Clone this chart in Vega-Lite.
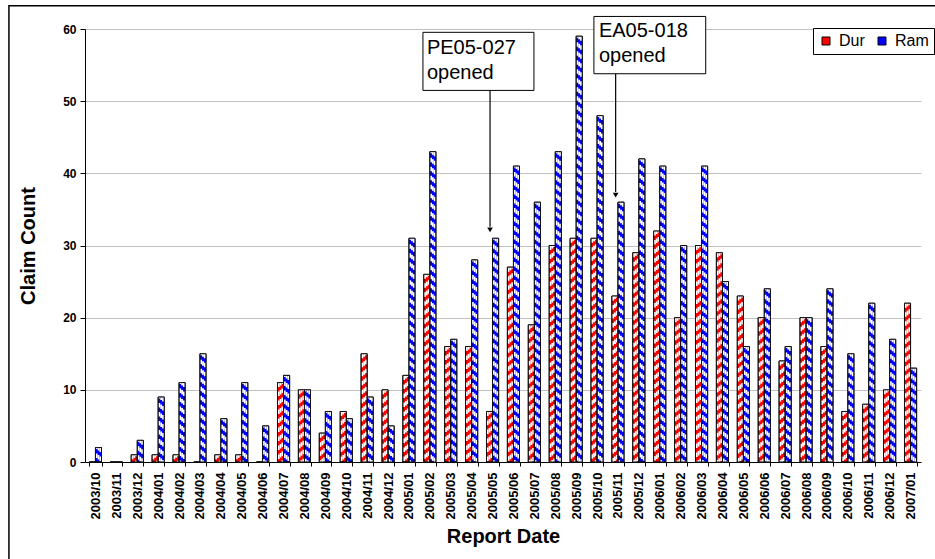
{
  "$schema": "https://vega.github.io/schema/vega-lite/v6.json",
  "width": 836,
  "height": 433,
  "autosize": {"type": "none"},
  "padding": {"left": 85, "top": 29, "right": 14, "bottom": 97},
  "background": "white",
  "config": {
    "font": "Liberation Sans",
    "view": {"stroke": null},
    "axis": {"labelFont": "Liberation Sans", "titleFont": "Liberation Sans", "domainColor": "#000", "tickColor": "#000", "labelColor": "#000", "titleColor": "#000"}
  },
  "datasets": {
    "claims": [
      {"month": "2003/10", "series": "Dur", "count": 0}, {"month": "2003/10", "series": "Ram", "count": 2},
      {"month": "2003/11", "series": "Dur", "count": 0}, {"month": "2003/11", "series": "Ram", "count": 0},
      {"month": "2003/12", "series": "Dur", "count": 1}, {"month": "2003/12", "series": "Ram", "count": 3},
      {"month": "2004/01", "series": "Dur", "count": 1}, {"month": "2004/01", "series": "Ram", "count": 9},
      {"month": "2004/02", "series": "Dur", "count": 1}, {"month": "2004/02", "series": "Ram", "count": 11},
      {"month": "2004/03", "series": "Dur", "count": 0}, {"month": "2004/03", "series": "Ram", "count": 15},
      {"month": "2004/04", "series": "Dur", "count": 1}, {"month": "2004/04", "series": "Ram", "count": 6},
      {"month": "2004/05", "series": "Dur", "count": 1}, {"month": "2004/05", "series": "Ram", "count": 11},
      {"month": "2004/06", "series": "Dur", "count": 0}, {"month": "2004/06", "series": "Ram", "count": 5},
      {"month": "2004/07", "series": "Dur", "count": 11}, {"month": "2004/07", "series": "Ram", "count": 12},
      {"month": "2004/08", "series": "Dur", "count": 10}, {"month": "2004/08", "series": "Ram", "count": 10},
      {"month": "2004/09", "series": "Dur", "count": 4}, {"month": "2004/09", "series": "Ram", "count": 7},
      {"month": "2004/10", "series": "Dur", "count": 7}, {"month": "2004/10", "series": "Ram", "count": 6},
      {"month": "2004/11", "series": "Dur", "count": 15}, {"month": "2004/11", "series": "Ram", "count": 9},
      {"month": "2004/12", "series": "Dur", "count": 10}, {"month": "2004/12", "series": "Ram", "count": 5},
      {"month": "2005/01", "series": "Dur", "count": 12}, {"month": "2005/01", "series": "Ram", "count": 31},
      {"month": "2005/02", "series": "Dur", "count": 26}, {"month": "2005/02", "series": "Ram", "count": 43},
      {"month": "2005/03", "series": "Dur", "count": 16}, {"month": "2005/03", "series": "Ram", "count": 17},
      {"month": "2005/04", "series": "Dur", "count": 16}, {"month": "2005/04", "series": "Ram", "count": 28},
      {"month": "2005/05", "series": "Dur", "count": 7}, {"month": "2005/05", "series": "Ram", "count": 31},
      {"month": "2005/06", "series": "Dur", "count": 27}, {"month": "2005/06", "series": "Ram", "count": 41},
      {"month": "2005/07", "series": "Dur", "count": 19}, {"month": "2005/07", "series": "Ram", "count": 36},
      {"month": "2005/08", "series": "Dur", "count": 30}, {"month": "2005/08", "series": "Ram", "count": 43},
      {"month": "2005/09", "series": "Dur", "count": 31}, {"month": "2005/09", "series": "Ram", "count": 59},
      {"month": "2005/10", "series": "Dur", "count": 31}, {"month": "2005/10", "series": "Ram", "count": 48},
      {"month": "2005/11", "series": "Dur", "count": 23}, {"month": "2005/11", "series": "Ram", "count": 36},
      {"month": "2005/12", "series": "Dur", "count": 29}, {"month": "2005/12", "series": "Ram", "count": 42},
      {"month": "2006/01", "series": "Dur", "count": 32}, {"month": "2006/01", "series": "Ram", "count": 41},
      {"month": "2006/02", "series": "Dur", "count": 20}, {"month": "2006/02", "series": "Ram", "count": 30},
      {"month": "2006/03", "series": "Dur", "count": 30}, {"month": "2006/03", "series": "Ram", "count": 41},
      {"month": "2006/04", "series": "Dur", "count": 29}, {"month": "2006/04", "series": "Ram", "count": 25},
      {"month": "2006/05", "series": "Dur", "count": 23}, {"month": "2006/05", "series": "Ram", "count": 16},
      {"month": "2006/06", "series": "Dur", "count": 20}, {"month": "2006/06", "series": "Ram", "count": 24},
      {"month": "2006/07", "series": "Dur", "count": 14}, {"month": "2006/07", "series": "Ram", "count": 16},
      {"month": "2006/08", "series": "Dur", "count": 20}, {"month": "2006/08", "series": "Ram", "count": 20},
      {"month": "2006/09", "series": "Dur", "count": 16}, {"month": "2006/09", "series": "Ram", "count": 24},
      {"month": "2006/10", "series": "Dur", "count": 7}, {"month": "2006/10", "series": "Ram", "count": 15},
      {"month": "2006/11", "series": "Dur", "count": 8}, {"month": "2006/11", "series": "Ram", "count": 22},
      {"month": "2006/12", "series": "Dur", "count": 10}, {"month": "2006/12", "series": "Ram", "count": 17},
      {"month": "2007/01", "series": "Dur", "count": 22}, {"month": "2007/01", "series": "Ram", "count": 13}
    ],
    "frame": [{"x1": -3.64, "x2": 46, "y1": 63.23, "y2": -20}],
    "boxes": [
      {"x1": 16.17, "x2": 21.48, "y1": 59.54, "y2": 51.49},
      {"x1": 24.35, "x2": 29.7, "y1": 61.74, "y2": 53.8}
    ],
    "notes": [
      {"x": 16.36, "y": 56.58, "text": "PE05-027\nopened"},
      {"x": 24.59, "y": 58.83, "text": "EA05-018\nopened"}
    ],
    "arrows": [
      {"x": 19.38, "ytop": 51.49, "yend": 32.6, "yhead": 32.17},
      {"x": 25.39, "ytop": 53.8, "yend": 37.4, "yhead": 36.98}
    ]
  },
  "layer": [
    {
      "data": {"name": "claims"},
      "layer": [
        {
          "mark": {"type": "bar", "stroke": "#111", "strokeWidth": 1},
          "encoding": {
            "x": {
              "field": "month", "type": "ordinal",
              "scale": {"paddingInner": 0.42, "paddingOuter": 0.21},
              "title": "Report Date",
              "axis": {"labelAngle": -90, "labelFontSize": 13, "labelFontWeight": "bold", "labelPadding": 6, "tickSize": 4, "tickBand": "extent", "titleFontSize": 20, "titleFontWeight": "bold", "titlePadding": 8, "labelBaseline": "middle", "labelAlign": "right"}
            },
            "xOffset": {"field": "series", "type": "nominal", "scale": {"paddingInner": 0, "paddingOuter": 0}},
            "y": {
              "field": "count", "type": "quantitative",
              "scale": {"domain": [0, 60], "nice": false},
              "title": "Claim Count",
              "axis": {"values": [0, 5, 10, 15, 20, 25, 30, 35, 40, 45, 50, 55, 60], "labelExpr": "datum.value % 10 === 0 ? datum.label : ''", "labelFontSize": 12, "labelFontWeight": "bold", "labelPadding": 4, "tickSize": 5, "gridColor": "#c0c0c0", "gridOpacity": {"condition": {"test": "datum.value % 10 === 0 && datum.value > 0", "value": 1}, "value": 0}, "titleFontSize": 20, "titleFontWeight": "bold", "titlePadding": 24}
            },
            "color": {
              "field": "series", "type": "nominal",
              "scale": {"domain": ["Dur", "Ram"], "range": ["#ff0000", "#0000ff"]},
              "legend": {"orient": "none", "legendX": 728, "legendY": -1, "direction": "horizontal", "title": null, "strokeColor": "#000", "fillColor": "white", "padding": 5, "symbolType": "square", "symbolSize": 64, "symbolStrokeColor": "#000", "symbolStrokeWidth": 1, "labelFontSize": 16, "labelFont": "Liberation Sans", "labelColor": "#000", "columnPadding": 9, "labelOffset": 5}
            }
          }
        },
        {
          "transform": [{"filter": "datum.series === 'Dur'"}],
          "mark": {"type": "rule", "color": "white", "strokeWidth": 1.8, "strokeDash": [4.5, 4.5], "strokeDashOffset": 0, "strokeCap": "butt"},
          "encoding": {"x": {"field": "month", "type": "ordinal", "bandPosition": 0.1}, "y": {"field": "count", "type": "quantitative"}, "y2": {"datum": 0}}
        },
        {
          "transform": [{"filter": "datum.series === 'Dur'"}],
          "mark": {"type": "rule", "color": "white", "strokeWidth": 1.8, "strokeDash": [4.5, 4.5], "strokeDashOffset": 1.5, "strokeCap": "butt"},
          "encoding": {"x": {"field": "month", "type": "ordinal", "bandPosition": 0.25}, "y": {"field": "count", "type": "quantitative"}, "y2": {"datum": 0}}
        },
        {
          "transform": [{"filter": "datum.series === 'Dur'"}],
          "mark": {"type": "rule", "color": "white", "strokeWidth": 1.8, "strokeDash": [4.5, 4.5], "strokeDashOffset": 3, "strokeCap": "butt"},
          "encoding": {"x": {"field": "month", "type": "ordinal", "bandPosition": 0.4}, "y": {"field": "count", "type": "quantitative"}, "y2": {"datum": 0}}
        },
        {
          "transform": [{"filter": "datum.series === 'Ram'"}],
          "mark": {"type": "rule", "color": "white", "strokeWidth": 1.8, "strokeDash": [4.5, 4.5], "strokeDashOffset": 3, "strokeCap": "butt"},
          "encoding": {"x": {"field": "month", "type": "ordinal", "bandPosition": 0.6}, "y": {"field": "count", "type": "quantitative"}, "y2": {"datum": 0}}
        },
        {
          "transform": [{"filter": "datum.series === 'Ram'"}],
          "mark": {"type": "rule", "color": "white", "strokeWidth": 1.8, "strokeDash": [4.5, 4.5], "strokeDashOffset": 1.5, "strokeCap": "butt"},
          "encoding": {"x": {"field": "month", "type": "ordinal", "bandPosition": 0.75}, "y": {"field": "count", "type": "quantitative"}, "y2": {"datum": 0}}
        },
        {
          "transform": [{"filter": "datum.series === 'Ram'"}],
          "mark": {"type": "rule", "color": "white", "strokeWidth": 1.8, "strokeDash": [4.5, 4.5], "strokeDashOffset": 0, "strokeCap": "butt"},
          "encoding": {"x": {"field": "month", "type": "ordinal", "bandPosition": 0.9}, "y": {"field": "count", "type": "quantitative"}, "y2": {"datum": 0}}
        },
        {
          "mark": {"type": "bar", "fillOpacity": 0, "stroke": "#111", "strokeWidth": 1},
          "encoding": {
            "x": {"field": "month", "type": "ordinal"},
            "xOffset": {"field": "series", "type": "nominal"},
            "y": {"field": "count", "type": "quantitative"}
          }
        }
      ]
    },
    {
      "layer": [
        {
          "data": {"name": "frame"},
          "mark": {"type": "rect", "fillOpacity": 0, "stroke": "#000", "strokeWidth": 1.5},
          "encoding": {
            "x": {"field": "x1", "type": "quantitative", "scale": {"domain": [0, 40], "nice": false, "zero": false}, "axis": null},
            "x2": {"field": "x2"},
            "y": {"field": "y1", "type": "quantitative", "scale": {"domain": [0, 60], "nice": false}, "axis": null},
            "y2": {"field": "y2"}
          }
        },
        {
          "data": {"name": "boxes"},
          "mark": {"type": "rect", "fill": "white", "stroke": "#000", "strokeWidth": 1},
          "encoding": {
            "x": {"field": "x1", "type": "quantitative", "axis": null},
            "x2": {"field": "x2"},
            "y": {"field": "y1", "type": "quantitative", "axis": null},
            "y2": {"field": "y2"}
          }
        },
        {
          "data": {"name": "notes"},
          "mark": {"type": "text", "align": "left", "baseline": "alphabetic", "fontSize": 20, "lineBreak": "\n", "lineHeight": 25, "font": "Liberation Sans", "color": "#000"},
          "encoding": {
            "x": {"field": "x", "type": "quantitative", "axis": null},
            "y": {"field": "y", "type": "quantitative", "axis": null},
            "text": {"field": "text"}
          }
        },
        {
          "data": {"name": "arrows"},
          "mark": {"type": "rule", "color": "#000", "strokeWidth": 1.2},
          "encoding": {
            "x": {"field": "x", "type": "quantitative", "axis": null},
            "y": {"field": "ytop", "type": "quantitative", "axis": null},
            "y2": {"field": "yend"}
          }
        },
        {
          "data": {"name": "arrows"},
          "mark": {"type": "point", "shape": "triangle-down", "filled": true, "color": "#000", "size": 32, "opacity": 1},
          "encoding": {
            "x": {"field": "x", "type": "quantitative", "axis": null},
            "y": {"field": "yhead", "type": "quantitative", "axis": null}
          }
        }
      ]
    }
  ],
  "resolve": {"scale": {"x": "independent", "y": "independent"}}
}
